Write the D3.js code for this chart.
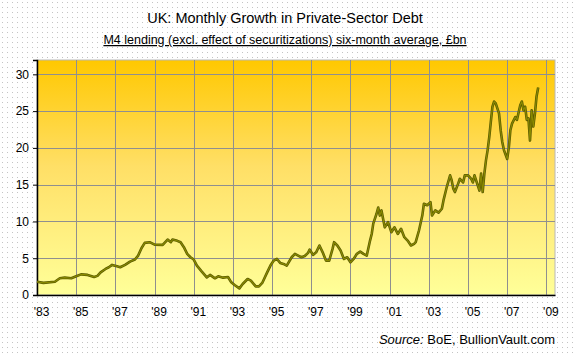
<!DOCTYPE html>
<html>
<head>
<meta charset="utf-8">
<script src="https://cdn.jsdelivr.net/npm/d3@7"></script>
<style>
  body { margin: 0; background: #fff; }
  text { font-family: "Liberation Sans", Arial, sans-serif; fill: #000; }
</style>
</head>
<body>
<div id="chart"></div>
<script>
// M4 lending (ex securitisations), six-month average, £bn
const months = [
  "1983-01","1983-05","1983-12","1984-03","1984-06","1984-10","1985-01","1985-04","1985-08","1985-12",
  "1986-02","1986-04","1986-07","1986-09","1986-11","1987-02","1987-04","1987-07","1987-10","1988-01",
  "1988-03","1988-05","1988-07","1988-10","1989-01","1989-06","1989-09","1989-11","1989-12","1990-03",
  "1990-05","1990-07","1990-09","1990-11","1991-01","1991-03","1991-06","1991-09","1991-11","1992-02",
  "1992-04","1992-07","1992-10","1992-12","1993-02","1993-05","1993-07","1993-10","1993-12","1994-03",
  "1994-05","1994-07","1994-10","1994-12","1995-02","1995-04","1995-06","1995-08","1995-10","1996-01",
  "1996-03","1996-05","1996-07","1996-09","1996-11","1996-12","1997-02","1997-04","1997-06","1997-08",
  "1997-10","1997-12","1998-02","1998-03","1998-05","1998-07","1998-09","1998-11","1999-01","1999-03",
  "1999-05","1999-07","1999-09","1999-11","2000-01","2000-02","2000-03","2000-05","2000-06","2000-07",
  "2000-08","2000-10","2000-12","2001-02","2001-04","2001-06","2001-08","2001-10","2001-12","2002-02",
  "2002-04","2002-05","2002-07","2002-09","2002-10","2002-12","2003-02","2003-03","2003-05","2003-07",
  "2003-09","2003-10","2003-12","2004-02","2004-03","2004-04","2004-05","2004-07","2004-08","2004-10",
  "2004-11","2005-01","2005-03","2005-04","2005-05","2005-07","2005-08","2005-09","2005-10","2005-11",
  "2005-12","2006-01","2006-02","2006-03","2006-04","2006-05","2006-06","2006-08","2006-09","2006-10",
  "2006-11","2007-01","2007-02","2007-03","2007-04","2007-06","2007-07","2007-09","2007-10","2007-11",
  "2007-12","2008-01","2008-02","2008-03","2008-04","2008-05","2008-06","2008-07","2008-08"
];
const lending = [
  1.8, 1.65, 1.8, 2.27, 2.36, 2.27, 2.54, 2.8, 2.73, 2.45,
  2.6, 3.08, 3.54, 3.77, 4.09, 3.9, 3.77, 4.09, 4.54, 4.82,
  5.36, 6.36, 7.09, 7.18, 6.85, 6.82, 7.54, 7.18, 7.54, 7.36,
  7.18, 6.5, 5.59, 5.13, 4.82, 4.0, 3.18, 2.4, 2.73, 2.27,
  2.54, 2.36, 2.45, 1.72, 1.36, 0.9, 1.5, 2.18, 1.95, 1.17,
  1.17, 1.64, 3.08, 4.0, 4.68, 4.9, 4.36, 4.23, 4.0, 5.13,
  5.59, 5.36, 5.13, 5.3, 5.73, 6.18, 5.45, 5.8, 6.73, 5.8,
  4.68, 4.68, 6.27, 7.18, 6.73, 6.04, 4.9, 5.13, 4.45, 4.9,
  5.6, 5.9, 5.59, 5.36, 7.4, 8.3, 9.7, 11.05, 11.9, 10.8,
  11.5, 9.2, 9.9, 8.54, 9.2, 8.3, 9.0, 7.86, 7.4, 6.73,
  6.96, 7.18, 8.77, 10.8, 12.4, 12.2, 12.63, 10.8, 11.5, 11.2,
  11.73, 12.86, 14.68, 16.27, 15.6, 14.46, 14.0, 15.14, 15.8, 15.3,
  16.27, 16.27, 15.8, 15.3, 16.27, 14.9, 14.2, 16.5, 14.0, 16.5,
  18.3, 19.7, 21.5, 23.5, 25.6, 26.3, 26.05, 24.7, 22.4, 20.8,
  19.7, 18.5, 20.1, 22.4, 23.3, 24.2, 23.8, 25.8, 26.3, 25.1,
  25.6, 23.8, 24.0, 21.0, 25.1, 22.9, 24.7, 27.0, 28.2
];
const yTicks = [0, 5, 10, 15, 20, 25, 30];
const xTickYears = [1983, 1985, 1987, 1989, 1991, 1993, 1995, 1997, 1999, 2001, 2003, 2005, 2007, 2009];

const width = 576, height = 354;
const margin = {left: 37, right: 21, top: 60, bottom: 59};
const innerW = width - margin.left - margin.right;
const innerH = height - margin.top - margin.bottom;

const parse = d3.timeParse("%Y-%m");
const data = months.map((m, i) => ({date: parse(m), value: lending[i]}));

const x = d3.scaleTime()
    .domain([new Date(1983, 0, 1), new Date(2009, 5, 10)])
    .range([0, innerW]);
const y = d3.scaleLinear()
    .domain([0, 31.95])
    .range([innerH, 0]);

const svg = d3.select("#chart").append("svg")
    .attr("width", width)
    .attr("height", height);

const defs = svg.append("defs");
const dots = defs.append("pattern")
    .attr("id", "dots").attr("width", 5).attr("height", 5)
    .attr("patternUnits", "userSpaceOnUse");
dots.append("rect").attr("width", 5).attr("height", 5).attr("fill", "#fff");
dots.append("rect").attr("x", 2).attr("y", 2).attr("width", 1).attr("height", 1).attr("fill", "#c4c4c4");

const grad = defs.append("linearGradient")
    .attr("id", "bg").attr("x1", 0).attr("y1", 0).attr("x2", 0).attr("y2", 1);
grad.append("stop").attr("offset", "0%").attr("stop-color", "#ffc800");
grad.append("stop").attr("offset", "45%").attr("stop-color", "#ffdf66");
grad.append("stop").attr("offset", "100%").attr("stop-color", "#ffff99");

svg.append("rect").attr("width", width).attr("height", height).attr("fill", "url(#dots)");

const g = svg.append("g")
    .attr("transform", "translate(" + margin.left + "," + margin.top + ")");

g.append("rect")
    .attr("width", innerW).attr("height", innerH)
    .attr("fill", "url(#bg)")
    .attr("stroke", "#b8b8b8");

// grid
g.selectAll(".hgrid")
    .data(yTicks.filter(d => d > 0))
  .enter().append("line")
    .attr("x1", 0).attr("x2", innerW)
    .attr("y1", d => Math.round(y(d)) + 0.5).attr("y2", d => Math.round(y(d)) + 0.5)
    .attr("stroke", "#8f8f8f");

g.selectAll(".vgrid")
    .data(xTickYears.slice(1))
  .enter().append("line")
    .attr("x1", d => Math.round(x(new Date(d, 0, 1))) + 0.5)
    .attr("x2", d => Math.round(x(new Date(d, 0, 1))) + 0.5)
    .attr("y1", 0).attr("y2", innerH)
    .attr("stroke", "#8f8f8f");

// axes
const yAxis = d3.axisLeft(y).tickValues(yTicks).tickSize(4).tickPadding(4);
const yG = g.append("g").call(yAxis);
yG.select(".domain").attr("stroke", "#000").attr("stroke-width", 1.5);
yG.selectAll("text").attr("font-size", 12).attr("font-family", "Liberation Sans, Arial, sans-serif");

const xAxis = d3.axisBottom(x)
    .tickValues(xTickYears.map(d => new Date(d, 0, 1)))
    .tickFormat(d => "'" + d3.timeFormat("%y")(d))
    .tickSize(0).tickPadding(12);
const xG = g.append("g").attr("transform", "translate(0," + innerH + ")").call(xAxis);
xG.select(".domain").attr("stroke", "#000").attr("stroke-width", 1.5);
xG.selectAll("text").attr("font-size", 12).attr("dx", 4)
    .attr("font-family", "Liberation Sans, Arial, sans-serif");

// series
const line = d3.line()
    .x(d => x(d.date))
    .y(d => y(d.value));

g.append("path")
    .datum(data)
    .attr("fill", "none")
    .attr("stroke", "#5c5c00")
    .attr("stroke-width", 2.6)
    .attr("stroke-linejoin", "round")
    .attr("d", line);
g.append("path")
    .datum(data)
    .attr("fill", "none")
    .attr("stroke", "#8a8a00")
    .attr("stroke-width", 1.1)
    .attr("stroke-linejoin", "round")
    .attr("d", line);

// titles
svg.append("text")
    .attr("x", 285).attr("y", 23)
    .attr("text-anchor", "middle")
    .attr("font-size", 14.5)
    .text("UK: Monthly Growth in Private-Sector Debt");

svg.append("text")
    .attr("x", 285).attr("y", 44)
    .attr("text-anchor", "middle")
    .attr("font-size", 12.5)
    .attr("text-decoration", "underline")
    .text("M4 lending (excl. effect of securitizations) six-month average, £bn");

const src = svg.append("text")
    .attr("x", 555).attr("y", 344)
    .attr("text-anchor", "end")
    .attr("font-size", 13);
src.append("tspan").attr("font-style", "italic").text("Source:");
src.append("tspan").text(" BoE, BullionVault.com");
</script>
</body>
</html>
